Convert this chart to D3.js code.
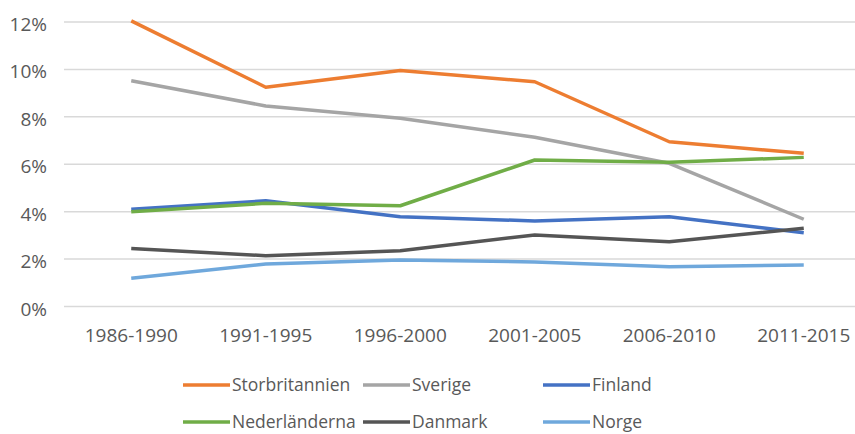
<!DOCTYPE html>
<meta charset="utf-8">
<script src="https://d3js.org/d3.v7.min.js"></script>
<style>
  body { margin: 0; background: #fff; }
  text { font-family: "Open Sans", sans-serif; fill: #595959; }
</style>
<div id="chart"></div>
<script>

// periods on the x axis
var periods = ["1986-1990", "1991-1995", "1996-2000", "2001-2005", "2006-2010", "2011-2015"]

// one array per country, values in percent
var storbritannien = [12.05, 9.25, 9.95, 9.48, 6.95, 6.46]
var sverige        = [9.52, 8.46, 7.94, 7.14, 6.04, 3.68]
var finland        = [4.10, 4.46, 3.79, 3.61, 3.79, 3.11]
var nederlanderna  = [4.00, 4.35, 4.25, 6.18, 6.08, 6.29]
var danmark        = [2.45, 2.14, 2.35, 3.02, 2.73, 3.30]
var norge          = [1.19, 1.79, 1.96, 1.88, 1.68, 1.75]

var yTicks = [0, 2, 4, 6, 8, 10, 12]

var series = [
  {name: "Storbritannien", values: storbritannien, color: "#ED7D31"},
  {name: "Sverige",        values: sverige,        color: "#A5A5A5"},
  {name: "Finland",        values: finland,        color: "#4472C4"},
  {name: "Nederländerna",  values: nederlanderna,  color: "#70AD47"},
  {name: "Danmark",        values: danmark,        color: "#555555"},
  {name: "Norge",          values: norge,          color: "#6FA8DC"}
]

var width = 855, height = 434
var plotLeft = 64, plotRight = 871, plotTop = 22, plotBottom = 306.5

var svg = d3.select("#chart").append("svg")
  .attr("width", width)
  .attr("height", height)

var x = d3.scalePoint().domain(periods).range([plotLeft, plotRight]).padding(0.5)
var y = d3.scaleLinear().domain([0, 12]).range([plotBottom, plotTop])

// horizontal gridlines
svg.append("g")
  .selectAll("line")
  .data(yTicks)
  .join("line")
    .attr("x1", plotLeft).attr("x2", plotRight)
    .attr("y1", d => y(d)).attr("y2", d => y(d))
    .attr("stroke", "#D9D9D9")
    .attr("stroke-width", 1.5)

// y labels
svg.append("g")
  .selectAll("text")
  .data(yTicks)
  .join("text")
    .attr("x", 47)
    .attr("y", d => y(d) + 9)
    .attr("text-anchor", "end")
    .style("font-size", "19px")
    .text(d => d + "%")

// x labels
svg.append("g")
  .selectAll("text")
  .data(periods)
  .join("text")
    .attr("x", d => x(d))
    .attr("y", 342)
    .attr("text-anchor", "middle")
    .style("font-size", "19px")
    .text(d => d)

// lines
var line = d3.line()
  .x((d, i) => x(periods[i]))
  .y(d => y(d))

svg.append("g")
  .selectAll("path")
  .data(series)
  .join("path")
    .attr("d", d => line(d.values))
    .attr("fill", "none")
    .attr("stroke", d => d.color)
    .attr("stroke-width", 3.5)
    .attr("stroke-linejoin", "round")

// legend, 3 columns x 2 rows
var legX = [183, 363, 543]
var legY = [385, 422]

var leg = svg.append("g")
  .selectAll("g")
  .data(series)
  .join("g")
    .attr("transform", (d, i) => "translate(" + legX[i % 3] + "," + legY[Math.floor(i / 3)] + ")")

leg.append("line")
  .attr("x1", 0).attr("x2", 47)
  .attr("stroke", d => d.color)
  .attr("stroke-width", 3.5)

leg.append("text")
  .attr("x", 49)
  .attr("dy", "0.37em")
  .style("font-size", "17.5px")
  .text(d => d.name)

</script>
